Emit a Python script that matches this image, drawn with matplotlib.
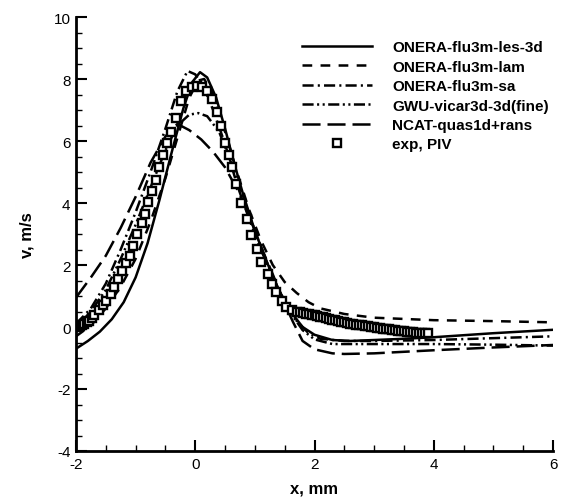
import matplotlib
matplotlib.use("Agg")
import matplotlib.pyplot as plt
from matplotlib.ticker import MultipleLocator

plt.rcParams['font.family'] = ['Liberation Sans', 'DejaVu Sans']
plt.rcParams['axes.unicode_minus'] = False
plt.rcParams['lines.scale_dashes'] = False

# ONERA-flu3m-les-3d (solid)
les_x = [-2.0, -1.8, -1.6, -1.4, -1.2, -1.0, -0.8, -0.6, -0.4, -0.2, -0.05, 0.08, 0.2, 0.35, 0.5, 0.65,
         0.8, 1.0, 1.2, 1.4, 1.6, 1.8, 2.0, 2.3, 2.6, 3.0, 3.5, 4.0, 5.0, 6.0]
les_y = [-0.7, -0.45, -0.15, 0.25, 0.8, 1.6, 2.7, 4.1, 5.6, 7.05, 7.9, 8.22, 8.05, 7.4, 6.4, 5.3,
         4.3, 3.1, 2.1, 1.2, 0.5, 0.0, -0.25, -0.42, -0.45, -0.42, -0.38, -0.33, -0.2, -0.09]

# ONERA-flu3m-lam (dashed)
lam_x = [-2.0, -1.75, -1.5, -1.25, -1.0, -0.75, -0.5, -0.3, -0.1, 0.05, 0.15, 0.3, 0.5, 0.7, 0.9,
         1.1, 1.3, 1.5, 1.7, 1.9, 2.1, 2.5, 3.0, 4.0, 5.0, 6.0]
lam_y = [-0.3, 0.05, 0.6, 1.3, 2.2, 3.4, 4.8, 6.1, 7.4, 7.95, 8.0, 7.5, 6.3, 5.0, 3.8,
         2.8, 2.0, 1.45, 1.1, 0.8, 0.6, 0.42, 0.3, 0.22, 0.19, 0.15]

# ONERA-flu3m-sa (dash-dot)
sa_x = [-2.0, -1.75, -1.5, -1.25, -1.0, -0.75, -0.5, -0.3, -0.13, 0.0, 0.15, 0.3, 0.5, 0.7, 0.9,
        1.1, 1.3, 1.5, 1.7, 1.9, 2.1, 2.5, 3.0, 4.0, 5.0, 6.0]
sa_y = [0.1, 0.6, 1.4, 2.5, 3.7, 5.0, 6.4, 7.6, 8.26, 8.15, 7.7, 7.0, 5.9, 4.6, 3.5,
        2.5, 1.6, 0.8, 0.2, -0.2, -0.38, -0.45, -0.45, -0.42, -0.36, -0.3]

# GWU-vicar3d-3d(fine) (dash-dot-dot)
gwu_x = [-2.0, -1.75, -1.5, -1.25, -1.0, -0.75, -0.5, -0.3, -0.1, 0.05, 0.2, 0.4, 0.6, 0.8, 1.0,
         1.2, 1.4, 1.6, 1.8, 2.0, 2.3, 3.0, 4.0, 5.0, 6.0]
gwu_y = [0.0, 0.5, 1.2, 2.2, 3.3, 4.5, 5.7, 6.5, 6.85, 6.9, 6.8, 6.3, 5.3, 4.2, 3.1,
         2.1, 1.2, 0.45, -0.1, -0.4, -0.55, -0.55, -0.55, -0.57, -0.6]

# NCAT-quas1d+rans (long dash)
ncat_x = [-2.0, -1.75, -1.5, -1.25, -1.0, -0.75, -0.5, -0.3, -0.1, 0.1, 0.3, 0.5, 0.7, 0.9,
          1.1, 1.3, 1.5, 1.64, 1.8, 2.0, 2.3, 2.5, 3.0, 4.0, 5.0, 6.0]
ncat_y = [0.95, 1.6, 2.3, 3.2, 4.2, 5.3, 6.15, 6.55, 6.35, 6.05, 5.65, 5.15, 4.45, 3.6,
          2.6, 1.7, 0.75, 0.16, -0.45, -0.72, -0.85, -0.87, -0.85, -0.75, -0.66, -0.58]

# exp, PIV (squares)
exp_x = [-2.0, -1.97, -1.93, -1.9, -1.86, -1.82, -1.78, -1.74, -1.7, -1.62, -1.55, -1.49, -1.42, -1.36,
         -1.29, -1.23, -1.16, -1.1, -1.04, -0.97, -0.9, -0.84, -0.79, -0.72, -0.66, -0.6, -0.54,
         -0.48, -0.4, -0.33, -0.24, -0.15, -0.06, 0.03, 0.11, 0.2, 0.28, 0.36, 0.43, 0.5, 0.56,
         0.62, 0.69, 0.77, 0.86, 0.94, 1.03, 1.11, 1.22, 1.28, 1.36, 1.45, 1.53, 1.62,
         1.70, 1.75, 1.80, 1.85, 1.90, 1.95, 2.00, 2.05, 2.10, 2.15, 2.20, 2.25, 2.30, 2.35,
         2.40, 2.45, 2.50, 2.55, 2.60, 2.65, 2.70, 2.75, 2.80, 2.85, 2.90, 2.95, 3.00, 3.05,
         3.10, 3.15, 3.20, 3.25, 3.30, 3.35, 3.40, 3.45, 3.50, 3.55, 3.60, 3.65, 3.70, 3.75,
         3.80, 3.85, 3.90]
exp_y = [0.0, 0.02, 0.04, 0.07, 0.1, 0.15, 0.2, 0.28, 0.38, 0.55, 0.7, 0.85, 1.05, 1.3,
         1.55, 1.8, 2.05, 2.3, 2.6, 3.0, 3.35, 3.65, 4.03, 4.4, 4.75, 5.15, 5.55,
         5.95, 6.3, 6.75, 7.3, 7.6, 7.74, 7.78, 7.74, 7.62, 7.35, 6.95, 6.5, 5.95, 5.55,
         5.15, 4.6, 4.0, 3.48, 2.97, 2.52, 2.1, 1.7, 1.39, 1.13, 0.84, 0.64, 0.55,
         0.50, 0.47, 0.45, 0.43, 0.41, 0.40, 0.38, 0.36, 0.33, 0.31, 0.28, 0.26, 0.23, 0.21,
         0.19, 0.17, 0.15, 0.13, 0.11, 0.10, 0.08, 0.06, 0.05, 0.03, 0.02, 0.0, -0.01, -0.03,
         -0.04, -0.06, -0.07, -0.08, -0.10, -0.11, -0.12, -0.13, -0.14, -0.15, -0.16, -0.17, -0.18, -0.18,
         -0.19, -0.20, -0.20]

labels = ["ONERA-flu3m-les-3d", "ONERA-flu3m-lam", "ONERA-flu3m-sa",
          "GWU-vicar3d-3d(fine)", "NCAT-quas1d+rans", "exp, PIV"]

fig = plt.figure(figsize=(5.71, 5.02), dpi=100)
ax = fig.add_axes([76 / 571, 50 / 502, 477 / 571, 434 / 502])

lw = 1.8
ax.plot(les_x, les_y, color='black', lw=lw, ls='-', label=labels[0])
ax.plot(lam_x, lam_y, color='black', lw=lw, ls=(0, (7, 6)), label=labels[1])
ax.plot(sa_x, sa_y, color='black', lw=lw, ls=(0, (8, 3, 1.5, 3)), label=labels[2])
ax.plot(gwu_x, gwu_y, color='black', lw=lw, ls=(0, (8, 2.5, 1.5, 2.5, 1.5, 2.5)), label=labels[3])
ax.plot(ncat_x, ncat_y, color='black', lw=lw, ls=(0, (13, 5)), label=labels[4])
ax.plot(exp_x, exp_y, ls='none', marker='s', ms=5.8, mfc='white', mec='black', mew=1.7,
        label=labels[5], zorder=5)

ax.set_xlim(-2, 6)
ax.set_ylim(-4, 10)
ax.xaxis.set_major_locator(MultipleLocator(2))
ax.xaxis.set_minor_locator(MultipleLocator(0.5))
ax.yaxis.set_major_locator(MultipleLocator(2))
ax.yaxis.set_minor_locator(MultipleLocator(0.5))
ax.spines['top'].set_visible(False)
ax.spines['right'].set_visible(False)
ax.spines['left'].set_linewidth(2)
ax.spines['bottom'].set_linewidth(2)
ax.tick_params(which='major', direction='in', length=8, width=1.5, labelsize=11, pad=4)
ax.tick_params(which='minor', direction='in', length=4, width=1)

ax.set_xlabel("x, mm", fontsize=12, fontweight='bold', labelpad=7)
ax.set_ylabel("v, m/s", fontsize=12, fontweight='bold', labelpad=14)

leg = ax.legend(loc='upper left', bbox_to_anchor=(226 / 477, (452 - 41) / 434), frameon=False,
                prop={'size': 11, 'weight': 'bold'}, handlelength=4.6, handletextpad=1.3,
                labelspacing=0.36, borderaxespad=0, borderpad=0)

fig.savefig("out.png", dpi=100)
